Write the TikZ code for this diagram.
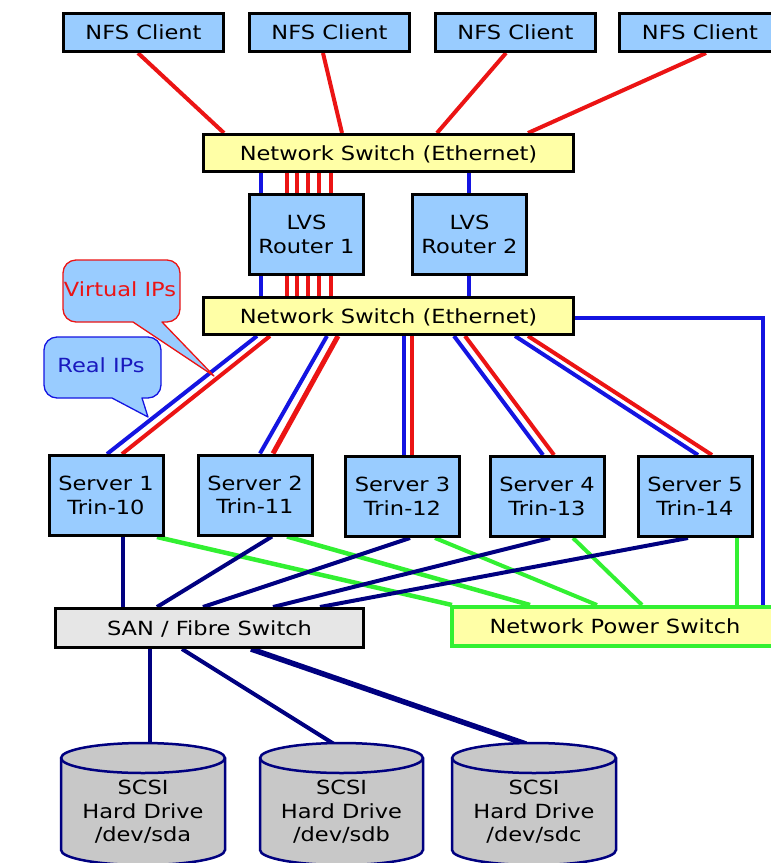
\documentclass[tikz,border=0pt]{standalone}
\usepackage{fontspec}
\setmainfont{DejaVu Sans}[FakeStretch=1.155]
\usetikzlibrary{calc}
\definecolor{boxblue}{RGB}{153,204,255}
\definecolor{boxyellow}{RGB}{255,255,166}
\definecolor{sangray}{RGB}{230,230,230}
\definecolor{drivegray}{RGB}{200,200,200}
\definecolor{lred}{RGB}{235,20,20}
\definecolor{lblue}{RGB}{20,20,225}
\definecolor{lnavy}{RGB}{0,0,128}
\definecolor{lgreen}{RGB}{50,240,50}
\definecolor{tblue}{RGB}{25,25,190}
\pgfdeclarelayer{bg}
\pgfsetlayers{bg,main}
\newcommand{\hddshape}[2]{%
  \filldraw[draw=lnavy, fill=drivegray, line width=2.5pt]
    ({#1-#2},-758) -- ({#1-#2},-850)
    arc[start angle=180, end angle=360, x radius=#2 pt, y radius=15pt]
    -- ({#1+#2},-758)
    arc[start angle=0, end angle=180, x radius=#2 pt, y radius=15pt] -- cycle;
  \draw[draw=lnavy, line width=2.5pt] ({#1-#2},-758)
    arc[start angle=180, end angle=360, x radius=#2 pt, y radius=15pt];
}
\begin{document}
\begin{tikzpicture}[x=1pt,y=1pt,
  every node/.style={font=\fontsize{19.5}{23.5}\selectfont, inner sep=0pt},
  one/.style={text height=14.2pt, text depth=0pt},
  two/.style={align=center},
  bluebox/.style={draw=black, line width=3pt, fill=boxblue},
  yelbox/.style={draw=black, line width=3pt, fill=boxyellow},
  client/.style={bluebox, one, minimum width=160pt, minimum height=38pt},
  switchbox/.style={yelbox, one, minimum width=370pt, minimum height=37pt},
  router/.style={bluebox, two, minimum width=114pt, minimum height=80pt},
  server/.style={bluebox, two, minimum width=114pt, minimum height=80pt},
  hdd/.style={two},
  bubble/.style={fill=boxblue, line width=1.3pt, line join=round},
  redl/.style={draw=lred, line width=4pt},
  bluel/.style={draw=lblue, line width=4pt},
  navyl/.style={draw=lnavy, line width=4pt},
  greenl/.style={draw=lgreen, line width=4.5pt}
]
\useasboundingbox (0,0) rectangle (771,-863);
\clip (0,0) rectangle (771,-863);

% clients
\node[client] (c1) at (143.5,-32.5) {NFS Client};
\node[client] (c2) at (329.5,-32.5) {NFS Client};
\node[client] (c3) at (515.5,-32.5) {NFS Client};
\node[client, minimum width=162pt] (c4) at (700,-32.5) {NFS Client};

% switches and routers
\node[switchbox] (sw1) at (388.5,-153) {Network Switch (Ethernet)};
\node[router] (r1) at (306.5,-234.5) {LVS\\Router 1};
\node[router] (r2) at (469.5,-234.5) {LVS\\Router 2};
\node[switchbox] (sw2) at (388.5,-316) {Network Switch (Ethernet)};

% servers
\node[server] (s1) at (106,-495.5) {Server 1\\Trin-10};
\node[server] (s2) at (255,-495) {Server 2\\Trin-11};
\node[server] (s3) at (402.5,-496.5) {Server 3\\Trin-12};
\node[server] (s4) at (547,-496.5) {Server 4\\Trin-13};
\node[server] (s5) at (695,-496.5) {Server 5\\Trin-14};

% SAN and power switch
\node[draw=black, line width=3pt, fill=sangray, one, minimum width=308pt, minimum height=39pt] (san) at (209.5,-628) {SAN / Fibre Switch};
\node[draw=lgreen, line width=4pt, fill=boxyellow, one, minimum width=326pt, minimum height=39pt] (nps) at (615,-626.5) {Network Power Switch};

% drives
\hddshape{143}{82}
\hddshape{341.5}{81.5}
\hddshape{534}{82}
\node[hdd] (d1) at (143,-812) {SCSI\\Hard Drive\\/dev/sda};
\node[hdd] (d2) at (341.5,-812) {SCSI\\Hard Drive\\/dev/sdb};
\node[hdd] (d3) at (534,-812) {SCSI\\Hard Drive\\/dev/sdc};
\coordinate (d1t) at (143,-744);
\coordinate (d2t) at (341.5,-744);
\coordinate (d3t) at (534,-744);

\begin{pgfonlayer}{bg}
% clients to switch
\draw[redl] (138,0|-c1.south) -- (224,0|-sw1.north);
\draw[redl] (323,0|-c2.south) -- (342,0|-sw1.north);
\draw[redl] (506,0|-c3.south) -- (437,0|-sw1.north);
\draw[redl] (706,0|-c4.south) -- (528,0|-sw1.north);
% LVS routers
\draw[bluel] (261,0|-sw1.south) -- (261,0|-r1.north);
\draw[bluel] (261,0|-r1.south) -- (261,0|-sw2.north);
\draw[bluel] (469,0|-sw1.south) -- (469,0|-r2.north);
\draw[bluel] (469,0|-r2.south) -- (469,0|-sw2.north);
\foreach \x in {287,297,308,319,331}{
  \draw[redl] (\x,0|-sw1.south) -- (\x,0|-r1.north);
  \draw[redl] (\x,0|-r1.south) -- (\x,0|-sw2.north);
}
% switch to servers
\draw[bluel] (257,0|-sw2.south) -- (107,0|-s1.north);
\draw[redl]  (270,0|-sw2.south) -- (122,0|-s1.north);
\draw[bluel] (327,0|-sw2.south) -- (260,0|-s2.north);
\draw[redl, line width=5pt] (338,0|-sw2.south) -- (273,0|-s2.north);
\draw[bluel] (404,0|-sw2.south) -- (404,0|-s3.north);
\draw[redl]  (412,0|-sw2.south) -- (412,0|-s3.north);
\draw[bluel] (454,0|-sw2.south) -- (543,0|-s4.north);
\draw[redl]  (465,0|-sw2.south) -- (554,0|-s4.north);
\draw[bluel] (515,0|-sw2.south) -- (698,0|-s5.north);
\draw[redl]  (528,0|-sw2.south) -- (712,0|-s5.north);
\draw[bluel] ([yshift=-2pt]sw2.east) -| (763,0|-nps.north);
% power
\draw[greenl] (157,0|-s1.south) -- (452,0|-nps.north);
\draw[greenl] (287,0|-s2.south) -- (530,0|-nps.north);
\draw[greenl, line width=4pt] (435,0|-s3.south) -- (597,0|-nps.north);
\draw[greenl, line width=4pt] (573,0|-s4.south) -- (642,0|-nps.north);
\draw[greenl, line width=4pt] (737,0|-s5.south) -- (737,0|-nps.north);
% SAN
\draw[navyl] (123,0|-s1.south) -- (123,0|-san.north);
\draw[navyl] (272,0|-s2.south) -- (157,0|-san.north);
\draw[navyl] (410,0|-s3.south) -- (203,0|-san.north);
\draw[navyl] (550,0|-s4.south) -- (273,0|-san.north);
\draw[navyl] (688,0|-s5.south) -- (320,0|-san.north);
\draw[navyl] (150,0|-san.south) -- (150,0|-d1t);
\draw[navyl] (182,0|-san.south) -- (334,0|-d2t);
\draw[navyl, line width=5.5pt] (251,0|-san.south) -- (526,0|-d3t);
\end{pgfonlayer}

% callouts
\draw[bubble, draw=lred]
  (63,-273) arc[start angle=180, end angle=90, radius=13pt]
  -- (167,-260) arc[start angle=90, end angle=0, radius=13pt]
  -- (180,-309) arc[start angle=0, end angle=-90, radius=13pt]
  -- (162,-322) -- (214,-376) -- (133,-322)
  -- (76,-322) arc[start angle=270, end angle=180, radius=13pt]
  -- cycle;
\node[one, text=lred] (vip) at (120,-289.5) {Virtual IPs};
\draw[bubble, draw=lblue]
  (44,-350) arc[start angle=180, end angle=90, radius=13pt]
  -- (148,-337) arc[start angle=90, end angle=0, radius=13pt]
  -- (161,-385) arc[start angle=0, end angle=-90, radius=13pt]
  -- (142,-398) -- (148,-417) -- (112,-398)
  -- (57,-398) arc[start angle=270, end angle=180, radius=13pt]
  -- cycle;
\node[one, text=tblue] (rip) at (101,-365.5) {Real IPs};
\end{tikzpicture}
\end{document}
